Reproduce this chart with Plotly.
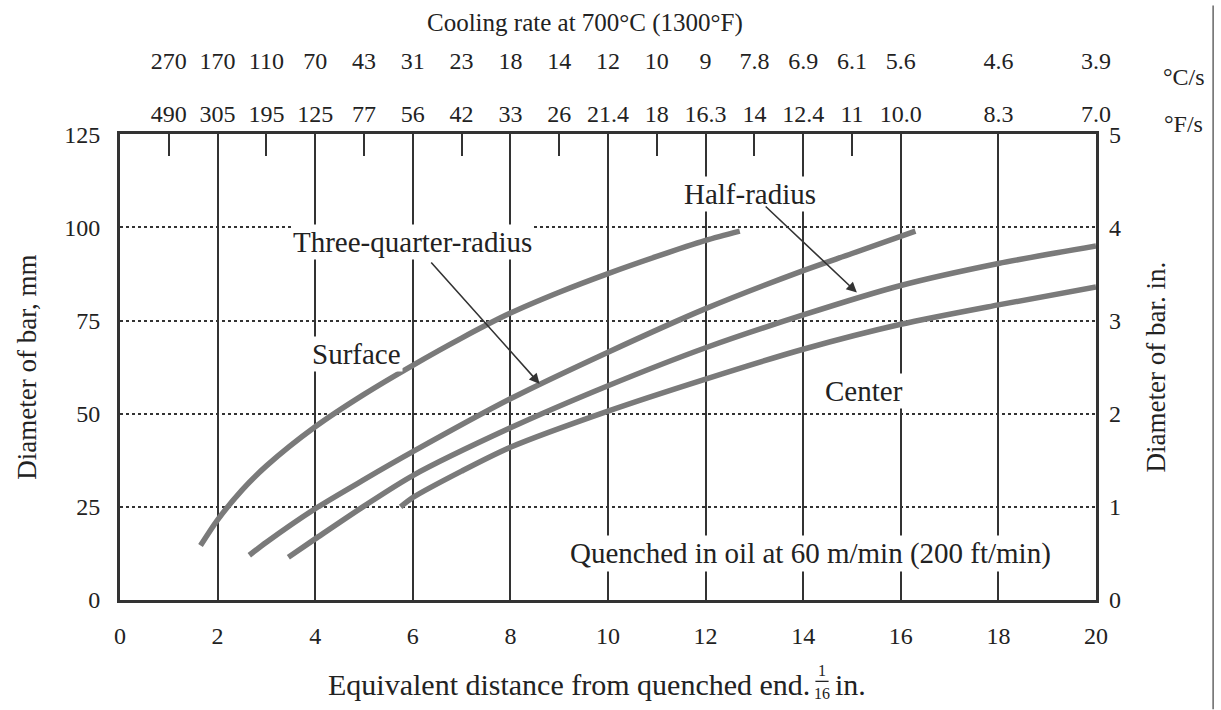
import plotly.graph_objects as go

# ---- data ----
surface_x = [1.65, 2, 2.5, 3, 4, 5, 6, 7, 8, 9, 10, 11, 12, 12.7]
surface_y = [14.6, 21.5, 29.5, 36, 46.5, 55.2, 63, 70.3, 77, 82.6, 87.6, 92.2, 96.5, 99]
tq_x = [2.65, 3, 4, 5, 6, 8, 10, 12, 14, 15, 16.3]
tq_y = [12, 15.5, 24.5, 32.3, 39.8, 54, 66.5, 78.2, 88.4, 93, 99]
half_x = [3.45, 4, 5, 6, 8, 10, 12, 14, 16, 18, 20]
half_y = [11.5, 16.4, 25.2, 33.4, 46.2, 57.5, 67.7, 76.5, 84.4, 90.3, 95]
center_x = [5.75, 6, 7, 8, 10, 12, 14, 16, 18, 20]
center_y = [25, 27.5, 34.6, 41, 50.7, 59.3, 67.3, 74, 79.2, 84]

x_ticks = [0, 2, 4, 6, 8, 10, 12, 14, 16, 18, 20]
y_mm_ticks = [0, 25, 50, 75, 100, 125]
y_in_ticks = [0, 1, 2, 3, 4, 5]
top_tick_pos = [1, 2, 3, 4, 5, 6, 7, 8, 9, 10, 11, 12, 13, 14, 15, 16, 18, 20]
rate_c = ["270", "170", "110", "70", "43", "31", "23", "18", "14", "12", "10", "9",
          "7.8", "6.9", "6.1", "5.6", "4.6", "3.9"]
rate_f = ["490", "305", "195", "125", "77", "56", "42", "33", "26", "21.4", "18", "16.3",
          "14", "12.4", "11", "10.0", "8.3", "7.0"]

FONT = "Liberation Serif"
INK = "#222222"
CURVE = "#7a7a7a"
LBL = 29

fig = go.Figure()
for xs, ys in [(surface_x, surface_y), (tq_x, tq_y), (half_x, half_y), (center_x, center_y)]:
    fig.add_trace(go.Scatter(x=xs, y=ys, mode="lines",
                             line=dict(color=CURVE, width=5.5, shape="spline", smoothing=0.8),
                             hoverinfo="skip", showlegend=False))

# invisible traces to register secondary axes
fig.add_trace(go.Scatter(x=top_tick_pos, y=[0] * len(top_tick_pos), xaxis="x2", yaxis="y",
                         mode="markers", marker=dict(opacity=0), hoverinfo="skip", showlegend=False))
fig.add_trace(go.Scatter(x=top_tick_pos, y=[0] * len(top_tick_pos), xaxis="x3", yaxis="y",
                         mode="markers", marker=dict(opacity=0), hoverinfo="skip", showlegend=False))
fig.add_trace(go.Scatter(x=[0, 20], y=[0, 5], xaxis="x", yaxis="y2",
                         mode="markers", marker=dict(opacity=0), hoverinfo="skip", showlegend=False))

tickfont = dict(family=FONT, size=24, color=INK)
ytop = 0.81

fig.update_layout(
    width=1221, height=710,
    margin=dict(l=120, r=125, t=20, b=110),
    paper_bgcolor="white", plot_bgcolor="white",
    font=dict(family=FONT, color=INK),
    xaxis=dict(range=[0, 20], tickvals=x_ticks, ticks="", showgrid=True,
               gridcolor="#333", gridwidth=1.5, zeroline=False,
               showline=True, linecolor="#333", linewidth=3, mirror=True,
               tickfont=tickfont, ticklabelstandoff=12, domain=[0, 1]),
    yaxis=dict(range=[0, 125], tickvals=y_mm_ticks, ticks="", showgrid=True,
               gridcolor="#333", gridwidth=1.5, griddash="dot", zeroline=False,
               showline=True, linecolor="#333", linewidth=3, mirror=True,
               tickfont=tickfont, ticklabelstandoff=12, domain=[0, ytop],
               title=dict(text="Diameter of bar, mm", font=dict(family=FONT, size=27, color=INK),
                          standoff=20)),
    yaxis2=dict(range=[0, 5], tickvals=y_in_ticks, overlaying="y", side="right", ticks="",
                showgrid=False, zeroline=False, showline=False, tickfont=tickfont,
                ticklabelstandoff=12,
                title=dict(text="Diameter of bar. in.", font=dict(family=FONT, size=27, color=INK),
                           standoff=26)),
    xaxis2=dict(range=[0, 20], overlaying="x", side="top", anchor="y",
                tickvals=top_tick_pos, ticktext=rate_f, ticks="inside", ticklen=22,
                tickwidth=2, tickcolor="#333", showgrid=False, zeroline=False,
                showline=False, tickfont=tickfont, ticklabelstandoff=6),
    xaxis3=dict(range=[0, 20], overlaying="x", side="top", anchor="free", position=0.915,
                tickvals=top_tick_pos, ticktext=rate_c, ticks="", showgrid=False,
                zeroline=False, showline=False, tickfont=tickfont),
)

def label(text, x, y, size=LBL):
    fig.add_annotation(x=x, y=y, xref="x", yref="y", text=text, showarrow=False,
                       xanchor="center", yanchor="middle",
                       font=dict(family=FONT, size=size, color=INK), bgcolor="white",
                       borderpad=1)

label("Three-quarter-radius", 6.0, 96)
label("Half-radius", 12.9, 109)
label("Surface", 4.85, 66)
label("Center", 15.25, 56)
label("Quenched in oil at 60 m/min (200 ft/min)", 14.15, 12.5)

# arrows
for (hx, hy, tx, ty) in [(8.6, 58, 6.35, 91), (15.1, 82.5, 13.2, 106)]:
    fig.add_annotation(x=hx, y=hy, ax=tx, ay=ty, xref="x", yref="y", axref="x", ayref="y",
                       text="", showarrow=True, arrowhead=2, arrowsize=1.3, arrowwidth=1.6,
                       arrowcolor="#333")

def ptext(text, x, y, size, xanchor="center"):
    fig.add_annotation(x=x, y=y, xref="paper", yref="paper", text=text, showarrow=False,
                       xanchor=xanchor, yanchor="middle",
                       font=dict(family=FONT, size=size, color=INK))

# top title and unit labels
ptext("Cooling rate at 700°C (1300°F)", 0.476, 1.0034, 25)
ptext("°C/s", 1.09, 0.910, 24)
ptext("°F/s", 1.09, 0.8276, 24)

# bottom axis title with stacked fraction
ptext("Equivalent distance from quenched end.", 0.709, -0.1466, 30, xanchor="right")
ptext("1", 0.7193, -0.122, 16)
ptext("16", 0.7193, -0.162, 16)
fig.add_shape(type="line", xref="paper", yref="paper", x0=0.7125, x1=0.726, y0=-0.1415, y1=-0.1415,
              line=dict(color=INK, width=1.3))
ptext("in.", 0.7305, -0.1466, 30, xanchor="left")

# scan page edge on the right
fig.add_shape(type="line", xref="paper", yref="paper", x0=1.12, x1=1.12, y0=-0.19, y1=1.034,
              line=dict(color="#666", width=1.5))

fig.write_html("out.html")
